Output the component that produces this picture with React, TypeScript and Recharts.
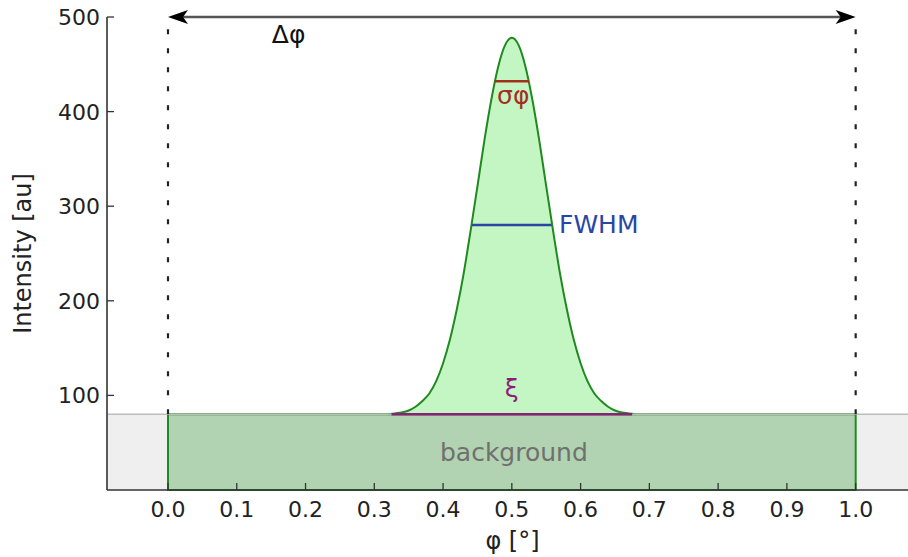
import { ComposedChart, Area, XAxis, YAxis, ReferenceArea, ReferenceLine } from 'recharts'

// peak profile
const phi = [
  0.32, 0.33, 0.34, 0.35, 0.36, 0.37, 0.38, 0.39, 0.4, 0.41, 0.42, 0.43, 0.44, 0.45, 0.46, 0.47, 0.48, 0.49,
  0.5,
  0.51, 0.52, 0.53, 0.54, 0.55, 0.56, 0.57, 0.58, 0.59, 0.6, 0.61, 0.62, 0.63, 0.64, 0.65, 0.66, 0.67, 0.68,
]
const intensity = [
  80, 81, 82, 84, 88, 94, 102, 115, 134, 159, 191, 229, 274, 321, 369, 412, 447, 470,
  478,
  470, 447, 412, 369, 321, 274, 229, 191, 159, 134, 115, 102, 94, 88, 84, 82, 81, 80,
]

const xTicks = [0, 0.1, 0.2, 0.3, 0.4, 0.5, 0.6, 0.7, 0.8, 0.9, 1.0]
const yTicks = [100, 200, 300, 400, 500]

const background = 80
const windowStart = 0
const windowEnd = 1
const sigmaLevel = 432
const sigmaRange = [0.475, 0.525]
const fwhmLevel = 280
const fwhmRange = [0.442, 0.558]
const xiRange = [0.325, 0.675]

const X_DOMAIN: [number, number] = [-0.0887, 1.0761]
const FONT = '"DejaVu Sans", sans-serif'

const data = phi.map((p, i) => ({ phi: p, intensity: intensity[i] }))

function XTick({ x, y, payload }: any) {
  return (
    <g>
      <line x1={x} y1={y} x2={x} y2={y - 7} stroke="#333" strokeWidth={1.3} />
      <text x={x} y={y + 27} textAnchor="middle" fontSize={22} fill="#222" fontFamily={FONT}>
        {Number(payload.value).toFixed(1)}
      </text>
    </g>
  )
}

function YTick({ x, y, payload }: any) {
  return (
    <g>
      <line x1={x} y1={y} x2={x + 7} y2={y} stroke="#333" strokeWidth={1.3} />
      <text x={x - 7} y={y} dy="0.36em" textAnchor="end" fontSize={22} fill="#222" fontFamily={FONT}>
        {payload.value}
      </text>
    </g>
  )
}

const arrowShape = (p: any) => {
  const { x1, y1, x2, y2 } = p
  const head = (tx: number, dir: number) =>
    `${tx},${y1} ${tx - dir * 20},${y1 - 7} ${tx - dir * 15},${y1} ${tx - dir * 20},${y1 + 7}`
  return (
    <g>
      <line x1={x1 + 10} y1={y1} x2={x2 - 10} y2={y2} stroke="#555" strokeWidth={2.4} />
      <polygon points={head(x1, -1)} fill="#000" />
      <polygon points={head(x2, 1)} fill="#000" />
    </g>
  )
}

// text placed at a data position
const note = (
  key: string,
  x: number,
  y: number,
  text: string,
  color: string,
  size: number,
  anchor: 'start' | 'middle' | 'end' = 'middle'
) => (
  <ReferenceLine
    key={key}
    segment={[{ x, y }, { x, y }]}
    ifOverflow="visible"
    shape={(p: any) => (
      <text x={p.x1} y={p.y1} textAnchor={anchor} fontSize={size} fill={color} fontFamily={FONT}>
        {text}
      </text>
    )}
  />
)

export default function App() {
  return (
    <div style={{ position: 'absolute', left: 0, top: 0, width: 908, height: 557, background: '#fff', fontFamily: FONT }}>
      <ComposedChart width={908} height={557} data={data} margin={{ top: 17, right: 0, bottom: 7, left: 10 }}>
        <XAxis
          type="number"
          dataKey="phi"
          domain={X_DOMAIN}
          allowDataOverflow
          ticks={xTicks}
          interval={0}
          height={60}
          tickSize={0}
          tickMargin={0}
          tickLine={false}
          tick={<XTick />}
          axisLine={{ stroke: '#333', strokeWidth: 1.6 }}
          label={(props: any) => {
            const vb = props.viewBox
            return (
              <text x={vb.x + vb.width / 2 + 5} y={vb.y + 59} textAnchor="middle" fontSize={24} fill="#222" fontFamily={FONT}>
                φ [°]
              </text>
            )
          }}
        />
        <YAxis
          type="number"
          domain={[0, 500]}
          allowDataOverflow
          ticks={yTicks}
          interval={0}
          width={97}
          tickSize={0}
          tickMargin={0}
          tickLine={false}
          tick={<YTick />}
          axisLine={{ stroke: '#333', strokeWidth: 1.6 }}
          label={(props: any) => {
            const vb = props.viewBox
            const cx = 31
            const cy = vb.y + vb.height / 2
            return (
              <text x={cx} y={cy} transform={`rotate(-90 ${cx} ${cy})`} textAnchor="middle" fontSize={24} fill="#222" fontFamily={FONT}>
                Intensity [au]
              </text>
            )
          }}
        />

        <ReferenceArea x1={X_DOMAIN[0]} x2={X_DOMAIN[1]} y1={0} y2={background} fill="#efefef" fillOpacity={1} stroke="none" />
        <ReferenceLine y={background} stroke="#bdbdbd" strokeWidth={1.5} />
        <ReferenceArea
          x1={windowStart}
          x2={windowEnd}
          y1={0}
          y2={background}
          fill="#b1d3b1"
          fillOpacity={1}
          stroke="#1f8a1f"
          strokeWidth={2}
        />

        <Area
          type="monotone"
          dataKey="intensity"
          baseValue={background}
          stroke="#1f8a1f"
          strokeWidth={2}
          fill="#c4f6c4"
          fillOpacity={1}
          isAnimationActive={false}
          dot={false}
          activeDot={false}
        />

        <ReferenceLine segment={[{ x: windowStart, y: background }, { x: windowStart, y: 500 }]} stroke="#222" strokeWidth={2.2} strokeDasharray="5 14" />
        <ReferenceLine segment={[{ x: windowEnd, y: background }, { x: windowEnd, y: 500 }]} stroke="#222" strokeWidth={2.2} strokeDasharray="5 14" />
        <ReferenceLine segment={[{ x: windowStart, y: 500 }, { x: windowEnd, y: 500 }]} ifOverflow="visible" shape={arrowShape} />

        <ReferenceLine segment={[{ x: sigmaRange[0], y: sigmaLevel }, { x: sigmaRange[1], y: sigmaLevel }]} stroke="#a3301f" strokeWidth={2.5} />
        <ReferenceLine segment={[{ x: fwhmRange[0], y: fwhmLevel }, { x: fwhmRange[1], y: fwhmLevel }]} stroke="#2a46a4" strokeWidth={2.5} />
        <ReferenceLine segment={[{ x: xiRange[0], y: background }, { x: xiRange[1], y: background }]} stroke="#8c1f7a" strokeWidth={2.5} />

        {note('dphi', 0.151, 472, 'Δφ', '#111', 25, 'start')}
        {note('sigma', 0.502, 408, 'σφ', '#a3301f', 25)}
        {note('fwhm', 0.5686, 272, 'FWHM', '#2a46a4', 25, 'start')}
        {note('xi', 0.5, 98, 'ξ', '#8c1f7a', 25)}
        {note('bg', 0.503, 31, 'background', '#707070', 25)}
      </ComposedChart>
    </div>
  )
}
